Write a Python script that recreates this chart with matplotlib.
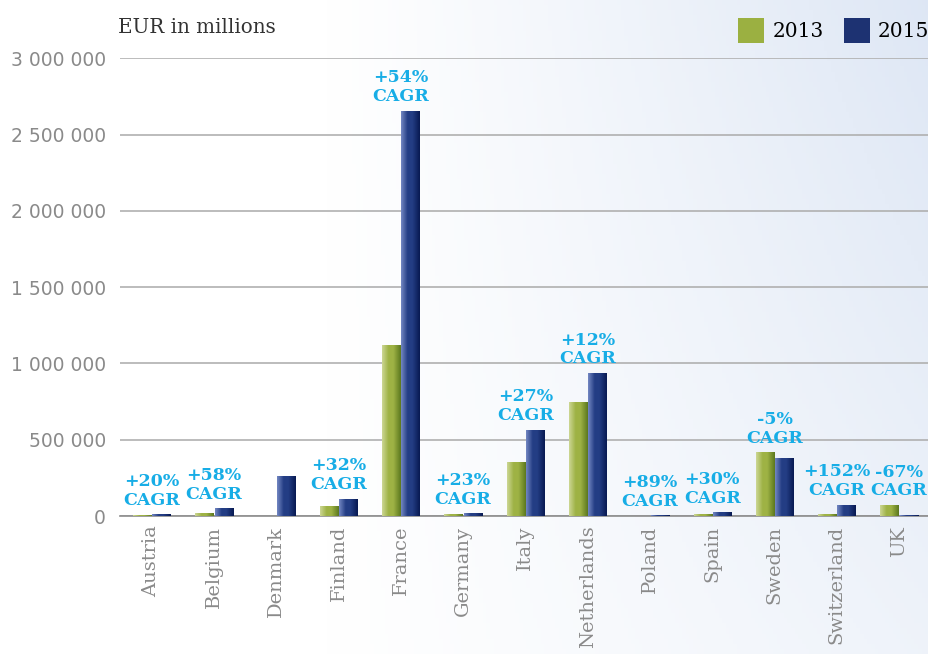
import matplotlib.pyplot as plt
import matplotlib.transforms as mtransforms
from matplotlib.patches import Patch
import numpy as np

countries = ["Austria", "Belgium", "Denmark", "Finland", "France", "Germany", "Italy",
             "Netherlands", "Poland", "Spain", "Sweden", "Switzerland", "UK"]
v2013 = [8000, 20000, 0, 65000, 1120000, 11000, 354000, 747000, 1000, 15000, 419000, 11500, 72000]
v2015 = [11500, 50000, 262000, 112000, 2655000, 16500, 565000, 937000, 3600, 25000, 380000, 73000, 7800]
cagr = ["+20%", "+58%", "", "+32%", "+54%", "+23%", "+27%", "+12%", "+89%", "+30%", "-5%", "+152%", "-67%"]
yticks = [0, 500000, 1000000, 1500000, 2000000, 2500000, 3000000]
ytick_labels = ["0", "500 000", "1 000 000", "1 500 000", "2 000 000", "2 500 000", "3 000 000"]

green = "#9bb041"
navy = "#1d3272"
label_blue = "#17ade6"
grey_txt = "#8a8a8a"

fig = plt.figure(figsize=(9.29, 6.54), dpi=100)

# background gradient (white on the left, pale blue on the right)
bg = fig.add_axes([0, 0, 1, 1], zorder=-10)
gx = np.linspace(0, 1, 256)
gy = np.linspace(0, 1, 128)
X, Y = np.meshgrid(gx, gy)
t = np.clip((X - 0.35) / 0.65, 0, 1) ** 1.1 * (0.5 + 0.5 * Y)
c0 = np.array([1.0, 1.0, 1.0])
c1 = np.array([0.87, 0.905, 0.96])
img = c0[None, None, :] * (1 - t[..., None]) + c1[None, None, :] * t[..., None]
bg.imshow(img, origin="lower", aspect="auto", extent=[0, 1, 0, 1])
bg.axis("off")

ax = fig.add_axes([0.129, 0.211, 0.871, 0.700])
ax.patch.set_alpha(0)

x = np.arange(len(countries))
w = 0.29
b1 = ax.bar(x - w / 2 - 0.01, v2013, w, color=green, zorder=3)
b2 = ax.bar(x + w / 2 + 0.01, v2015, w, color=navy, zorder=3)


def shade(bars, light, mid, dark):
    # horizontal gradient inside each bar
    cols = np.array([light, mid, mid, dark])
    pos = np.array([0.0, 0.35, 0.6, 1.0])
    s = np.linspace(0, 1, 64)
    grad = np.stack([np.interp(s, pos, cols[:, k]) for k in range(3)], axis=-1)[None, :, :]
    for b in bars:
        h = b.get_height()
        if h <= 0:
            continue
        x0 = b.get_x()
        im = ax.imshow(grad, extent=[x0, x0 + b.get_width(), 0, h], aspect="auto",
                       zorder=4, interpolation="bilinear")
        im.set_clip_path(b)


shade(b1, [0.80, 0.84, 0.58], [0.62, 0.70, 0.27], [0.36, 0.47, 0.12])
shade(b2, [0.45, 0.53, 0.76], [0.14, 0.24, 0.52], [0.03, 0.10, 0.32])

for i, lab in enumerate(cagr):
    if not lab:
        continue
    top = max(v2013[i], v2015[i])
    ax.annotate(lab + "\nCAGR", (x[i], top), xytext=(0, 4), textcoords="offset points",
                ha="center", va="bottom", color=label_blue, fontsize=12.5,
                fontweight="bold", family="DejaVu Serif", linespacing=1.15, zorder=6)

ax.set_xlim(-0.51, 12.48)
ax.set_ylim(0, 3000000)
ax.set_yticks(yticks)
ax.set_yticklabels(ytick_labels, color=grey_txt, fontsize=13.5)
ax.set_xticks(x)
ax.set_xticklabels(countries, rotation=90, color=grey_txt, fontsize=14, family="DejaVu Serif")
offset = mtransforms.ScaledTranslation(-5 / 72, 0, fig.dpi_scale_trans)
for lbl in ax.get_xticklabels():
    lbl.set_transform(lbl.get_transform() + offset)
ax.tick_params(axis="both", length=0)
ax.tick_params(axis="y", pad=10)
ax.tick_params(axis="x", pad=7)
for s in ["top", "right", "left"]:
    ax.spines[s].set_visible(False)
ax.spines["bottom"].set_color("#8c8c8c")
ax.spines["bottom"].set_linewidth(1.2)
ax.grid(axis="y", color="#b0b0b0", linewidth=1.2, zorder=0)
ax.set_axisbelow(True)

fig.text(0.127, 0.958, "EUR in millions", fontsize=14.3, color="#333333",
         family="DejaVu Serif", va="center", ha="left")

handles = [Patch(facecolor=green, label="2013"), Patch(facecolor=navy, label="2015")]
fig.legend(handles=handles, loc="upper right", bbox_to_anchor=(1.02, 1.0), ncol=2,
           frameon=False, handlelength=1.3, handleheight=1.5,
           handletextpad=0.4, columnspacing=1.0, prop={"family": "DejaVu Serif", "size": 14.5})

fig.savefig("out.png", dpi=100)
